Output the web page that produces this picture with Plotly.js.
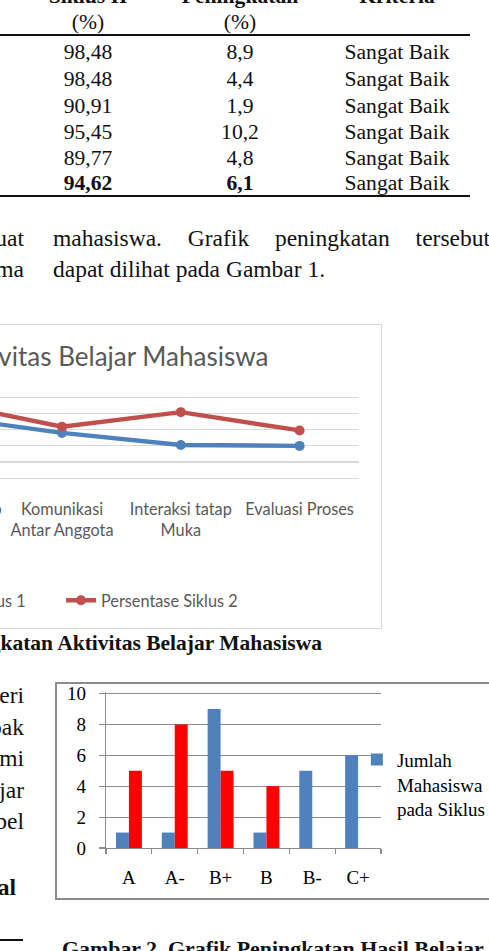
<!DOCTYPE html>
<html>
<head>
<meta charset="utf-8">
<script src="https://cdn.plot.ly/plotly-3.0.1.min.js"></script>
<style>
html,body{margin:0;padding:0;width:489px;height:951px;overflow:hidden;background:#fff;}
#page{position:relative;width:489px;height:951px;overflow:hidden;background:#fff;}
.t{position:absolute;white-space:nowrap;font-family:"Liberation Serif","Times New Roman",serif;color:#111;line-height:1.107;}
.rule{position:absolute;background:#111;}
#box1{position:absolute;left:-299px;top:324px;width:681px;height:305px;border:1px solid #d9d9d9;box-sizing:border-box;background:#fff;}
#box2{position:absolute;left:55px;top:682px;width:460px;height:218px;border:2px solid #8c8c8c;box-sizing:border-box;background:#fff;}
#chart2{position:absolute;left:0;top:-1px;}
</style>
</head>
<body>
<div id="page">
  <div id="box1"><div id="chart1"></div></div>
  <div id="box2"><div id="chart2"></div></div>
</div>
<script>
// ---------- table data (Tabel) ----------
var tabelSiklus2 = ['98,48','98,48','90,91','95,45','89,77','94,62'];
var tabelPeningkatan = ['8,9','4,4','1,9','10,2','4,8','6,1'];
var tabelKriteria = ['Sangat Baik','Sangat Baik','Sangat Baik','Sangat Baik','Sangat Baik','Sangat Baik'];

// ---------- Gambar 1: aktivitas belajar ----------
var aspek = ['Saling Ketergantungan Positif','Tanggung Jawab Perseorangan','Komunikasi Antar Anggota','Interaksi tatap Muka','Evaluasi Proses'];
var aspekLabel = ['Saling<br>Ketergantungan<br>Positif','Tanggung Jawab<br>Perseorangan','Komunikasi<br>Antar Anggota','Interaksi tatap<br>Muka','Evaluasi Proses'];
var persenSiklus1 = [89.58, 94.08, 89.01, 85.25, 84.97];
var persenSiklus2 = [98.48, 98.48, 90.91, 95.45, 89.77];
var tickPersen = [75, 80, 85, 90, 95, 100];

// ---------- Gambar 2: hasil belajar ----------
var nilaiHuruf = ['A','A-','B+','B','B-','C+'];
var jumlahSiklus1 = [1, 1, 9, 1, 5, 6];
var jumlahSiklus2 = [5, 8, 5, 4, 0, 0];
var tickJumlah = [0, 2, 4, 6, 8, 10];

var page = document.getElementById('page');
function place(txt, o) {
  var d = document.createElement('div');
  d.className = 't';
  d.textContent = txt;
  d.style.fontSize = o.fs + 'px';
  d.style.top = (o.baseline - 0.891 * o.fs) + 'px';
  if (o.bold) d.style.fontWeight = 'bold';
  if (o.align === 'center') { d.style.left = o.x + 'px'; d.style.transform = 'translateX(-50%)'; }
  else if (o.align === 'right') { d.style.right = (489 - o.x) + 'px'; d.style.textAlign = 'right'; }
  else d.style.left = o.x + 'px';
  if (o.width) { d.style.width = o.width + 'px'; d.style.textAlign = 'justify'; d.style.textAlignLast = 'justify'; }
  page.appendChild(d);
  return d;
}
function rule(x, y, w, h) {
  var r = document.createElement('div');
  r.className = 'rule';
  r.style.left = x + 'px'; r.style.top = y + 'px'; r.style.width = w + 'px'; r.style.height = h + 'px';
  page.appendChild(r);
}

// table header
var FS_T = 21.6;
place('Siklus II', {x: 88, baseline: 4, fs: FS_T, bold: true, align: 'center'});
place('(%)', {x: 88, baseline: 30, fs: FS_T, align: 'center'});
place('Peningkatan', {x: 240, baseline: 4, fs: FS_T, bold: true, align: 'center'});
place('(%)', {x: 240, baseline: 30, fs: FS_T, align: 'center'});
place('Kriteria', {x: 397, baseline: 4, fs: FS_T, bold: true, align: 'center'});
rule(0, 34, 470, 2);
var rowBase = [60, 87, 114, 140, 166, 191];
for (var i = 0; i < tabelSiklus2.length; i++) {
  var last = (i === tabelSiklus2.length - 1);
  place(tabelSiklus2[i], {x: 88, baseline: rowBase[i], fs: FS_T, bold: last, align: 'center'});
  place(tabelPeningkatan[i], {x: 240, baseline: rowBase[i], fs: FS_T, bold: last, align: 'center'});
  place(tabelKriteria[i], {x: 397, baseline: rowBase[i], fs: FS_T, align: 'center'});
}
rule(0, 195, 470, 2);

// paragraph text
var FS_P = 23.5;
place('membuat', {x: 24, baseline: 245.5, fs: FS_P, align: 'right'});
place('bersama', {x: 24, baseline: 277, fs: FS_P, align: 'right'});
place('mahasiswa. Grafik peningkatan tersebut', {x: 53, baseline: 245.5, fs: FS_P, width: 437});
place('dapat dilihat pada Gambar 1.', {x: 53, baseline: 277, fs: FS_P});

// captions and left column fragments
place('Gambar 1. Grafik Peningkatan Aktivitas Belajar Mahasiswa', {x: 322, baseline: 651, fs: 21.5, bold: true, align: 'right'});
place('materi', {x: 24, baseline: 703, fs: FS_P, align: 'right'});
place('tampak', {x: 24, baseline: 735, fs: FS_P, align: 'right'});
place('memahami', {x: 24, baseline: 766, fs: FS_P, align: 'right'});
place('belajar', {x: 24, baseline: 798, fs: FS_P, align: 'right'});
place('tabel', {x: 24, baseline: 829, fs: FS_P, align: 'right'});
place('Soal', {x: 16, baseline: 895, fs: FS_P, bold: true, align: 'right'});
rule(0, 939, 23, 2);
place('Gambar 2. Grafik Peningkatan Hasil Belajar Mahasiswa', {x: 62, baseline: 957, fs: 21.9, bold: true});

// ---------- chart 1 ----------
var cal = 'Lato, "Open Sans", sans-serif';
var grey = '#595959';
var traces1 = [
  {x: aspek, y: persenSiklus1, name: 'Persentase Siklus 1', type: 'scatter', mode: 'lines+markers',
   line: {color: '#4f81bd', width: 4.4}, marker: {color: '#4f81bd', size: 10}},
  {x: aspek, y: persenSiklus2, name: 'Persentase Siklus 2', type: 'scatter', mode: 'lines+markers',
   line: {color: '#c0504d', width: 4.4}, marker: {color: '#c0504d', size: 10}}
];
var H1 = 303, W1 = 679;
var pxPerUnit1 = 80.6 / 25;
var extra1 = 1.5;
var layout1 = {
  width: W1, height: H1,
  margin: {l: 62.5, r: 21.5, t: 72.7 - extra1, b: H1 - 72.7 - 80.6, pad: 0},
  paper_bgcolor: '#ffffff', plot_bgcolor: '#ffffff',
  title: {text: 'Peningkatan Aktivitas Belajar Mahasiswa', font: {family: cal, size: 26, color: grey},
          x: 335 / W1, xref: 'container', xanchor: 'center', y: 1 - 32 / H1, yref: 'container', yanchor: 'middle'},
  xaxis: {type: 'category', tickvals: aspek, ticktext: aspekLabel, range: [-0.5, 4.5],
          showgrid: false, zeroline: false, showline: true, linecolor: '#d9d9d9', linewidth: 1,
          ticks: '', ticklabelstandoff: 16, tickfont: {family: cal, size: 16.3, color: grey}, fixedrange: true},
  yaxis: {range: [75, 100 + extra1 / pxPerUnit1], tickvals: tickPersen, showgrid: true, gridcolor: '#d9d9d9', gridwidth: 1.2, zeroline: false,
          showline: false, ticks: '', tickformat: '.2f', tickfont: {family: cal, size: 12, color: grey}, fixedrange: true},
  separators: ',.',
  showlegend: true,
  legend: {orientation: 'h', entrywidth: 167, entrywidthmode: 'pixels',
           x: 147 / W1, xref: 'container', xanchor: 'left', y: 1 - 275.7 / H1, yref: 'container', yanchor: 'middle',
           font: {family: cal, size: 16.3, color: grey}, bgcolor: 'rgba(0,0,0,0)'},
  hovermode: false
};
Plotly.newPlot('chart1', traces1, layout1, {staticPlot: true, displayModeBar: false});

// ---------- chart 2 ----------
var serif = '"Liberation Serif", "Times New Roman", serif';
var axisGrey = '#8c8c8c';
var traces2 = [
  {x: nilaiHuruf, y: jumlahSiklus1, name: 'Jumlah<br>Mahasiswa<br>pada Siklus 1', type: 'bar', marker: {color: '#4f81bd'}},
  {x: nilaiHuruf, y: jumlahSiklus2, name: 'Jumlah<br>Mahasiswa<br>pada Siklus 2', type: 'bar', marker: {color: '#ff0000'}, showlegend: false}
];
// chart2 div sits 1px above the inner box edge (top 683 on the page)
var W2 = 456, H2 = 215;
var pxPerUnit2 = 154.4 / 10;
var extra2 = 1.5;
var top2 = 693.3 - 683;
var layout2 = {
  width: W2, height: H2,
  margin: {l: 49, r: W2 - 49 - 275.7, t: top2 - extra2, b: H2 - top2 - 154.4, pad: 0},
  paper_bgcolor: 'rgba(0,0,0,0)', plot_bgcolor: 'rgba(0,0,0,0)',
  barmode: 'group', bargap: 0.435, bargroupgap: 0,
  xaxis: {type: 'category', showgrid: false, zeroline: false, showline: true, linecolor: axisGrey, linewidth: 1.3,
          ticks: 'outside', tickson: 'boundaries', ticklen: 5, tickcolor: axisGrey, tickwidth: 1.3,
          ticklabelstandoff: 12, tickfont: {family: serif, size: 19, color: '#000'}, fixedrange: true},
  yaxis: {range: [0, 10 + extra2 / pxPerUnit2], tickvals: tickJumlah, showgrid: true, gridcolor: axisGrey, gridwidth: 1.2, zeroline: false,
          showline: true, linecolor: axisGrey, linewidth: 1.3, ticks: 'outside', ticklen: 6, tickcolor: axisGrey, tickwidth: 1.2,
          ticklabelstandoff: 9, ticklabeloverflow: 'allow', tickfont: {family: serif, size: 19, color: '#000'}, fixedrange: true},
  showlegend: true,
  legend: {x: 0.909, xanchor: 'left', y: 0.688, yanchor: 'top', valign: 'top', bgcolor: 'rgba(0,0,0,0)',
           font: {family: serif, size: 19, color: '#000'}, borderwidth: 0},
  hovermode: false
};
Plotly.newPlot('chart2', traces2, layout2, {staticPlot: true, displayModeBar: false});
</script>
</body>
</html>
